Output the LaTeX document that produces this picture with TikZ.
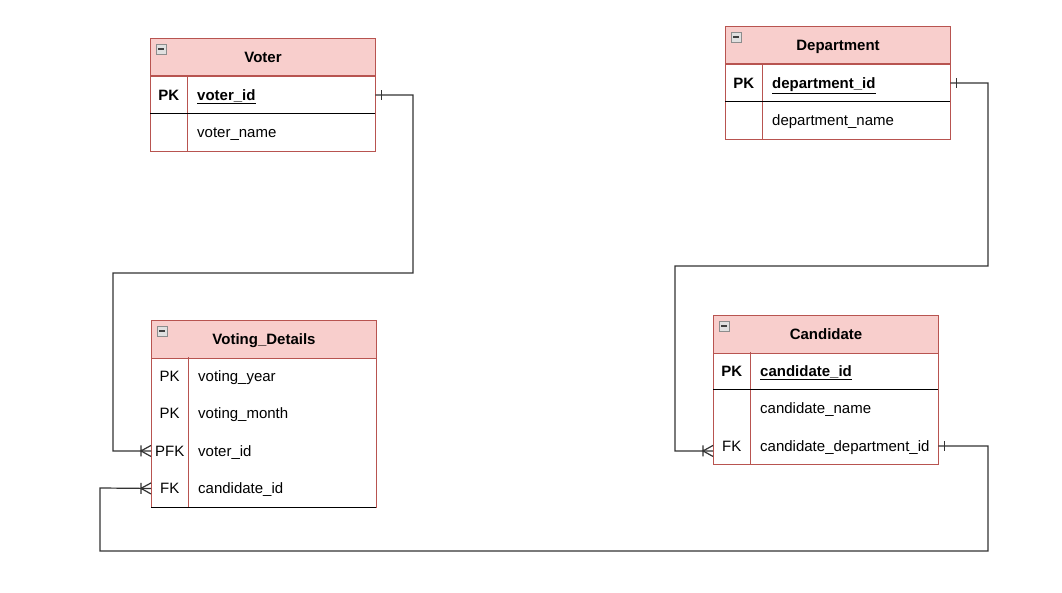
\documentclass[tikz,border=0pt]{standalone}
\usepackage{fontspec}
\setmainfont{Liberation Sans}
\usepackage{xcolor}
\usepackage{tikz}
\usetikzlibrary{arrows.meta}

\definecolor{erfill}{HTML}{F8CECC}
\definecolor{erline}{HTML}{B85450}
\definecolor{wirecol}{HTML}{333333}

% relationship ends: single bar and crow's foot
\pgfdeclarearrow{
  name=ErOne,
  parameters={\the\pgfarrowlength,\the\pgfarrowwidth},
  setup code={
    \pgfarrowssettipend{0pt}
    \pgfarrowssetlineend{0pt}
    \pgfarrowssetbackend{-\pgfarrowlength}
    \pgfarrowssetvisualbackend{-\pgfarrowlength}
    \pgfarrowshullpoint{0pt}{0pt}
    \pgfarrowshullpoint{-\pgfarrowlength}{.5\pgfarrowwidth}
    \pgfarrowshullpoint{-\pgfarrowlength}{-.5\pgfarrowwidth}
    \pgfarrowssavethe\pgfarrowlength
    \pgfarrowssavethe\pgfarrowwidth
  },
  drawing code={
    \pgfpathmoveto{\pgfpoint{-\pgfarrowlength}{.5\pgfarrowwidth}}
    \pgfpathlineto{\pgfpoint{-\pgfarrowlength}{-.5\pgfarrowwidth}}
    \pgfusepathqstroke
  },
  defaults={length=6pt,width=10pt}
}
\pgfdeclarearrow{
  name=Crow,
  parameters={\the\pgfarrowlength,\the\pgfarrowwidth},
  setup code={
    \pgfarrowssettipend{0pt}
    \pgfarrowssetlineend{0pt}
    \pgfarrowssetbackend{-\pgfarrowlength}
    \pgfarrowssetvisualbackend{-\pgfarrowlength}
    \pgfarrowshullpoint{0pt}{.5\pgfarrowwidth}
    \pgfarrowshullpoint{0pt}{-.5\pgfarrowwidth}
    \pgfarrowshullpoint{-\pgfarrowlength}{.5\pgfarrowwidth}
    \pgfarrowshullpoint{-\pgfarrowlength}{-.5\pgfarrowwidth}
    \pgfarrowssavethe\pgfarrowlength
    \pgfarrowssavethe\pgfarrowwidth
  },
  drawing code={
    \pgfpathmoveto{\pgfpoint{0pt}{.5\pgfarrowwidth}}
    \pgfpathlineto{\pgfpoint{-\pgfarrowlength}{0pt}}
    \pgfpathlineto{\pgfpoint{0pt}{-.5\pgfarrowwidth}}
    \pgfpathmoveto{\pgfpoint{-\pgfarrowlength}{.5\pgfarrowwidth}}
    \pgfpathlineto{\pgfpoint{-\pgfarrowlength}{-.5\pgfarrowwidth}}
    \pgfusepathqstroke
  },
  defaults={length=10pt,width=11pt}
}

\begin{document}
\begin{tikzpicture}[x=1pt,y=-1pt,font=\fontsize{15}{18}\selectfont,
  head/.style={draw=erline,line width=1pt,fill=erfill,anchor=north west,inner sep=0pt,
    minimum width=225pt,minimum height=37.5pt,text height=14pt,text depth=3pt,
    font=\fontsize{15}{18}\selectfont\bfseries},
  keycell/.style={anchor=north west,inner sep=0pt,minimum width=37pt,minimum height=37.5pt,
    text height=14pt,text depth=3pt},
  fieldcell/.style={anchor=north west,inner xsep=10pt,inner ysep=0pt,text width=168pt,
    align=left,minimum height=37.5pt,text height=14pt,text depth=3pt},
  icon/.style={draw=black!45,fill=black!12,minimum size=9.5pt,inner sep=0pt,
    path picture={\draw[black!75,line width=1.5pt]
      ([xshift=-3pt]path picture bounding box.center) --
      ([xshift=3pt]path picture bounding box.center);}},
  frame/.style={draw=erline,line width=1pt},
  keyline/.style={draw=black,line width=1.1pt},
  wire/.style={draw=wirecol,line width=1.2pt}]
\useasboundingbox[fill=white] (0,0) rectangle (1062,593);

% Voter
\node[head] (voter) at (150,38) {Voter};
\node[icon] (voter-icon) at (161,49) {};
\node[keycell] (voter-k0) at (150,76) {\textbf{PK}};
\node[fieldcell] (voter-f0) at (187,76) {\underline{\textbf{voter\_id}}};
\node[keycell] (voter-k1) at (150,113.5) {};
\node[fieldcell] (voter-f1) at (187,113.5) {voter\_name};
\draw[frame] (voter.south west) rectangle (voter-f1.south east);
\draw[frame] (voter-k0.north east) -- (voter-k1.south east);
\draw[keyline] (voter-k0.south west) -- (voter-f0.south east);

% Department
\node[head] (dept) at (725,26) {Department};
\node[icon] (dept-icon) at (736,37) {};
\node[keycell] (dept-k0) at (725,64) {\textbf{PK}};
\node[fieldcell] (dept-f0) at (762,64) {\underline{\textbf{department\_id}}};
\node[keycell] (dept-k1) at (725,101.5) {};
\node[fieldcell] (dept-f1) at (762,101.5) {department\_name};
\draw[frame] (dept.south west) rectangle (dept-f1.south east);
\draw[frame] (dept-k0.north east) -- (dept-k1.south east);
\draw[keyline] (dept-k0.south west) -- (dept-f0.south east);

% Voting_Details
\node[head] (vd) at (151,320) {Voting\_Details};
\node[icon] (vd-icon) at (162,331) {};
\foreach \i/\k/\f in {0/PK/voting\_year,1/PK/voting\_month,2/PFK/voter\_id,3/FK/candidate\_id}{
  \node[keycell] (vd-k\i) at (151,357+\i*37.5) {\k};
  \node[fieldcell] (vd-f\i) at (188,357+\i*37.5) {\f};
}
\draw[frame] (vd.south west) rectangle (vd-f3.south east);
\draw[frame] (vd-k0.north east) -- (vd-k3.south east);
\draw[keyline] (vd-k3.south west) -- (vd-f3.south east);

% Candidate
\node[head] (cand) at (713,315) {Candidate};
\node[icon] (cand-icon) at (724,326) {};
\node[keycell] (cand-k0) at (713,352) {\textbf{PK}};
\node[fieldcell] (cand-f0) at (750,352) {\underline{\textbf{candidate\_id}}};
\node[keycell] (cand-k1) at (713,389.5) {};
\node[fieldcell] (cand-f1) at (750,389.5) {candidate\_name};
\node[keycell] (cand-k2) at (713,427) {FK};
\node[fieldcell] (cand-f2) at (750,427) {candidate\_department\_id};
\draw[frame] (cand.south west) rectangle (cand-f2.south east);
\draw[frame] (cand-k0.north east) -- (cand-k2.south east);
\draw[keyline] (cand-k0.south west) -- (cand-f0.south east);

% relationships
\draw[wire,{ErOne}-{Crow}] (voter-f0.east) -| (413,273) -| (113,451) -- (vd-k2.west);
\draw[wire,{ErOne}-{Crow}] (dept-f0.east) -| (988,266) -| (675,451) -- ([yshift=-5pt]cand-k2.west);
\draw[wire,{ErOne}-{Crow}] (cand-f2.east) -| (988,551) -| (100,488) -- (vd-k3.west);
\end{tikzpicture}
\end{document}
